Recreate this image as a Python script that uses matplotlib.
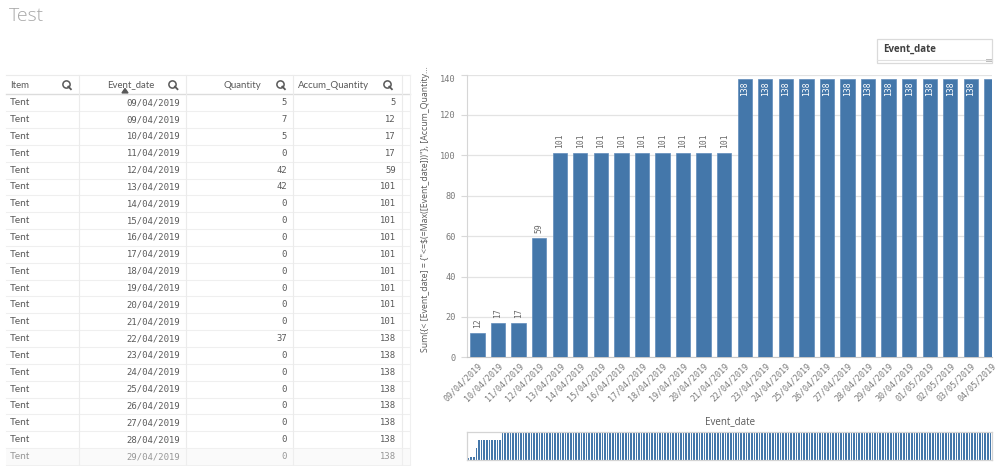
import matplotlib
matplotlib.use('Agg')
import matplotlib.pyplot as plt
from matplotlib.lines import Line2D
from matplotlib.patches import Rectangle, Polygon

# ---------------- data ----------------
chart_dates = ['09/04/2019', '10/04/2019', '11/04/2019', '12/04/2019', '13/04/2019',
               '14/04/2019', '15/04/2019', '16/04/2019', '17/04/2019', '18/04/2019',
               '19/04/2019', '20/04/2019', '21/04/2019', '22/04/2019', '23/04/2019',
               '24/04/2019', '25/04/2019', '26/04/2019', '27/04/2019', '28/04/2019',
               '29/04/2019', '30/04/2019', '01/05/2019', '02/05/2019', '03/05/2019',
               '04/05/2019']
chart_values = [12, 17, 17, 59, 101, 101, 101, 101, 101, 101, 101, 101, 101,
                138, 138, 138, 138, 138, 138, 138, 138, 138, 138, 138, 138, 138]

table_headers = ['Item', 'Event_date', 'Quantity', 'Accum_Quantity']
table_items = ['Tent'] * 22
table_dates = ['09/04/2019', '09/04/2019', '10/04/2019', '11/04/2019', '12/04/2019',
               '13/04/2019', '14/04/2019', '15/04/2019', '16/04/2019', '17/04/2019',
               '18/04/2019', '19/04/2019', '20/04/2019', '21/04/2019', '22/04/2019',
               '23/04/2019', '24/04/2019', '25/04/2019', '26/04/2019', '27/04/2019',
               '28/04/2019', '29/04/2019']
table_quantity = [5, 7, 5, 0, 42, 42, 0, 0, 0, 0, 0, 0, 0, 0, 37, 0, 0, 0, 0, 0, 0, 0]
table_accum = [5, 12, 17, 17, 59, 101, 101, 101, 101, 101, 101, 101, 101, 101,
               138, 138, 138, 138, 138, 138, 138, 138]

# mini (scroll) chart: whole series
mini_values = [12, 17, 17, 59] + [101] * 9 + [138] * 187

y_label = 'Sum({< [Event_date] = {"<=$(=Max([Event_date]))"}, [Accum_Quantity...'
x_label = 'Event_date'
title = 'Test'
filter_title = 'Event_date'

# ---------------- style ----------------
BAR = '#4477aa'
TXT = '#595959'
GRID = '#e3e3e3'
SANS = ['Open Sans', 'DejaVu Sans']
NARROW = ['Lato', 'DejaVu Sans']
MONO = ['DejaVu Sans Mono']

W, H = 999, 466
fig = plt.figure(figsize=(W / 100, H / 100), dpi=100)
fig.patch.set_facecolor('white')


def fx(x):
    return x / W


def fy(y):
    return 1 - y / H


def axes_px(l, t, r, b):
    return fig.add_axes([l / W, 1 - b / H, (r - l) / W, (b - t) / H])


def hline(x0, x1, y, color='#ebebeb', lw=0.8):
    fig.add_artist(Line2D([fx(x0), fx(x1)], [fy(y), fy(y)], color=color, lw=lw,
                          transform=fig.transFigure))


def vline(x, y0, y1, color='#ebebeb', lw=0.8):
    fig.add_artist(Line2D([fx(x), fx(x)], [fy(y0), fy(y1)], color=color, lw=lw,
                          transform=fig.transFigure))


def search_icon(x, y, color='#595959'):
    fig.add_artist(Line2D([fx(x - 1)], [fy(y - 1)], marker='o', markersize=5.2,
                          mfc='none', mec=color, mew=1.1, transform=fig.transFigure))
    fig.add_artist(Line2D([fx(x + 1.6), fx(x + 4.2)], [fy(y + 1.6), fy(y + 4.2)],
                          color=color, lw=1.3, transform=fig.transFigure))


# ---------------- title ----------------
fig.text(fx(9), fy(16), title, fontsize=14, color='#a8a8a8', va='center', ha='left',
         family=SANS, fontweight='light')

# ---------------- table ----------------
col_x = [79.3, 186, 293.3, 401.7]
hdr_top, hdr_bot = 75, 94.3
row0, pitch = 102.7, 16.85
n_rows = len(table_dates)

hline(6, 410, hdr_top, '#ebebeb')
hline(6, 410, hdr_bot, '#dcdcdc', 1.0)
for i in range(n_rows):
    hline(6, 410, row0 + i * pitch + 8.4, '#efefef')
for x in col_x:
    vline(x, hdr_top, H, '#ebebeb')
vline(410, hdr_top, H, '#f0f0f0')

hdr_pos = [(10, 'left'), (154, 'right'), (261, 'right'), (369.3, 'right')]
for (x, ha), name in zip(hdr_pos, table_headers):
    fig.text(fx(x), fy(85), name, fontsize=6.9, color=TXT, ha=ha, va='center',
             family=NARROW)
for x in [66.7, 173.3, 280.7, 387.7]:
    search_icon(x, 85)
# sort indicator
fig.add_artist(Polygon([[fx(122), fy(93)], [fx(128), fy(93)], [fx(125), fy(88.5)]],
                       closed=True, color='#595959', transform=fig.transFigure))

for i in range(n_rows):
    y = row0 + i * pitch
    fig.text(fx(10), fy(y), table_items[i], fontsize=7.2, color=TXT, ha='left',
             va='center', family=NARROW)
    fig.text(fx(180.5), fy(y), table_dates[i], fontsize=6.4, color=TXT, ha='right',
             va='center', family=MONO)
    fig.text(fx(287), fy(y), str(table_quantity[i]), fontsize=6.4, color=TXT,
             ha='right', va='center', family=MONO)
    fig.text(fx(396), fy(y), str(table_accum[i]), fontsize=6.4, color=TXT,
             ha='right', va='center', family=MONO)

# fade at bottom of table
fig.add_artist(Rectangle((fx(6), 0), fx(404), fy(448), facecolor='#f4f4f4',
                         alpha=0.4, lw=0, transform=fig.transFigure, zorder=5))

# ---------------- bar chart ----------------
ax = axes_px(467, 74.5, 992, 357.3)
x = list(range(len(chart_values)))
ax.bar(x, chart_values, width=0.7, color=BAR, edgecolor='#5f8cbb', linewidth=0.5,
       zorder=3)
xmin, xmax = -0.51, 25.03
ax.set_xlim(xmin, xmax)
ax.set_ylim(0, 140)
ax.set_yticks(range(0, 141, 20))
ax.set_xticks(x)
ax.set_xticklabels(chart_dates, rotation=45, ha='right', va='top',
                   rotation_mode='anchor', family=MONO, fontsize=6, color='#7a7a7a')
for lbl in ax.get_yticklabels():
    lbl.set_family(MONO)
    lbl.set_fontsize(6.2)
    lbl.set_color('#7a7a7a')
ax.get_yticklabels()[-1].set_va('top')
ax.tick_params(axis='y', length=4, color='#d9d9d9', pad=4)
ax.tick_params(axis='x', length=0, pad=3)
ax.grid(axis='y', color=GRID, lw=0.9, zorder=0)
for s in ['top', 'right']:
    ax.spines[s].set_visible(False)
ax.spines['left'].set_color('#d6d6d6')
ax.spines['bottom'].set_color('#c8c8c8')
ax.set_facecolor('white')

for xi, v in zip(x, chart_values):
    if xi + 0.35 > xmax:
        continue
    if v > 125:
        ax.annotate(str(v), (xi, v), xytext=(0, -2), textcoords='offset points',
                    rotation=90, ha='center', va='top', fontsize=5.8, family=MONO,
                    color='white', zorder=4)
    else:
        ax.annotate(str(v), (xi, v), xytext=(0, 3.5), textcoords='offset points',
                    rotation=90, ha='center', va='bottom', fontsize=5.8, family=MONO,
                    color='#6a6a6a', zorder=4)

fig.text(fx(425), fy(209), y_label, rotation=90, ha='center', va='center',
         fontsize=6.3, color=TXT, family=SANS)
fig.text(fx(730), fy(421.7), x_label, ha='center', va='center', fontsize=7,
         color=TXT, family=SANS)

# ---------------- mini chart ----------------
mx = axes_px(467, 432, 992, 460)
mx.bar(range(len(mini_values)), mini_values, width=0.62, color=BAR, lw=0)
mx.set_xlim(-0.6, len(mini_values) - 0.4)
mx.set_ylim(0, 138)
mx.set_xticks([])
mx.set_yticks([])
for s in mx.spines.values():
    s.set_color('#d4d4d4')
    s.set_linewidth(0.9)

# ---------------- filter pane ----------------
fig.add_artist(Rectangle((fx(876.5), fy(63.3)), fx(992) - fx(876.5),
                         fy(39.3) - fy(63.3), facecolor='white', edgecolor='#dadada',
                         lw=0.9, transform=fig.transFigure))
fig.text(fx(882.7), fy(49.3), filter_title, fontsize=7, fontweight='bold',
         color='#404040', ha='left', va='center', family=SANS)
hline(877, 991.5, 59.5, '#e0e0e0', 0.8)
fig.add_artist(Rectangle((fx(986), fy(62.3)), fx(991.5) - fx(986), fy(59.5) - fy(62.3),
                         facecolor='#bdbdbd', lw=0, transform=fig.transFigure))

fig.savefig('out.png', dpi=100, facecolor='white')
